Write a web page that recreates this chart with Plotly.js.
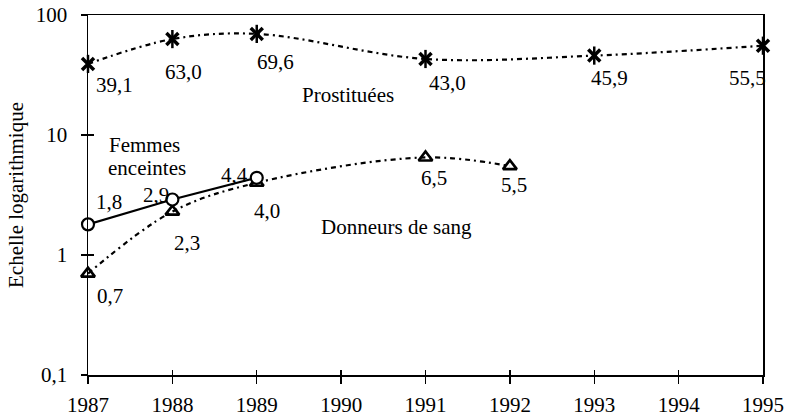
<!DOCTYPE html>
<html><head><meta charset="utf-8">
<script src="https://cdn.plot.ly/plotly-3.0.1.min.js"></script>
<style>html,body{margin:0;padding:0;background:#fff}#c{width:787px;height:419px}</style>
</head><body><div id="c"></div>
<script>
// Data
const prostYears = [1987, 1988, 1989, 1991, 1993, 1995];
const prostValues = [39.1, 63.0, 69.6, 43.0, 45.9, 55.5];
const femmesYears = [1987, 1988, 1989];
const femmesValues = [1.8, 2.9, 4.4];
const donneursYears = [1987, 1988, 1989, 1991, 1992];
const donneursValues = [0.7, 2.3, 4.0, 6.5, 5.5];
const xTicks = [1987, 1988, 1989, 1990, 1991, 1992, 1993, 1994, 1995];
const yTickVals = [0.1, 1, 10, 100];
const yTickText = ['0,1', '1', '10', '100'];

// label offsets (pixels) – styling only
const prostOff = [[26, -21], [11, -33], [19, -28], [22, -24], [15, -22], [-16, -32]];
const femmesOff = [[21, 22], [-16, 5], [-22, 3]];
const donneursOff = [[22, -22], [15, -31], [10, -28], [8, -21], [4, -19]];

const FONT = "'Liberation Serif', 'Times New Roman', Times, serif";
const FS = 21;
const fmt = v => v.toFixed(1).replace('.', ',');
const dashPat = '5px,4px,2px,4px';

const traces = [
  {x: prostYears, y: prostValues, type: 'scatter', mode: 'lines+markers', cliponaxis: false,
   line: {color: '#000', width: 2.2, dash: dashPat, shape: 'spline', smoothing: 1},
   marker: {symbol: 'x-thin-open', size: 12, color: '#000', line: {color: '#000', width: 3.5}}},
  {x: prostYears, y: prostValues, type: 'scatter', mode: 'markers', cliponaxis: false,
   marker: {symbol: 'line-ns-open', size: 13, color: '#000', line: {color: '#000', width: 2.5}}},
  {x: donneursYears, y: donneursValues, type: 'scatter', mode: 'lines+markers', cliponaxis: false,
   line: {color: '#000', width: 2.2, dash: dashPat, shape: 'spline', smoothing: 1},
   marker: {symbol: 'triangle-up-open', size: 12, color: '#000', line: {color: '#000', width: 2.6}}},
  {x: femmesYears, y: femmesValues, type: 'scatter', mode: 'lines+markers', cliponaxis: false,
   line: {color: '#000', width: 2.2},
   marker: {symbol: 'circle', size: 12, color: '#fff', line: {color: '#000', width: 2.2}}},
  {x: [1987], y: [1], xaxis: 'x2', yaxis: 'y2', type: 'scatter', mode: 'markers', marker: {opacity: 0}, hoverinfo: 'skip'}
];

const annotations = [];
function addLabels(xs, ys, offs) {
  xs.forEach((x, i) => annotations.push({
    x: x, y: Math.log10(ys[i]), xref: 'x', yref: 'y', text: fmt(ys[i]), showarrow: false,
    xshift: offs[i][0], yshift: offs[i][1], font: {family: FONT, size: FS, color: '#000'}
  }));
}
addLabels(prostYears, prostValues, prostOff);
addLabels(femmesYears, femmesValues, femmesOff);
addLabels(donneursYears, donneursValues, donneursOff);
const tf = {family: FONT, size: FS, color: '#000'};
annotations.push(
  {x: 1990.08, y: 1.333, xref: 'x', yref: 'y', text: 'Prostituées', showarrow: false, font: tf},
  {x: 1987, y: 0.917, xref: 'x', yref: 'y', text: 'Femmes', showarrow: false, xanchor: 'left', xshift: 19, font: tf},
  {x: 1987, y: 0.725, xref: 'x', yref: 'y', text: 'enceintes', showarrow: false, xanchor: 'left', xshift: 18, font: tf},
  {x: 1990.66, y: 0.233, xref: 'x', yref: 'y', text: 'Donneurs de sang', showarrow: false, font: tf}
);

const common = {showgrid: false, zeroline: false, tickcolor: '#000', tickwidth: 1.3};
const layout = {
  width: 787, height: 419,
  margin: {l: 88, r: 24, t: 15, b: 44},
  paper_bgcolor: '#fff', plot_bgcolor: '#fff',
  showlegend: false,
  font: {family: FONT, size: FS, color: '#000'},
  xaxis: Object.assign({range: [1987, 1995], tickvals: xTicks, ticks: 'outside', ticklen: 7,
          showline: true, linecolor: '#000', linewidth: 1.5, mirror: true,
          tickfont: {family: FONT, size: FS}, ticklabelstandoff: 3}, common),
  xaxis2: Object.assign({range: [1987, 1995], overlaying: 'x', side: 'bottom', tickvals: xTicks, ticks: 'inside', ticklen: 5,
           showticklabels: false, showline: false}, common),
  yaxis: Object.assign({type: 'log', range: [-1, 2], tickvals: yTickVals, ticktext: yTickText, ticks: 'outside', ticklen: 6,
          showline: true, linecolor: '#000', linewidth: 1.5, mirror: true,
          tickfont: {family: FONT, size: FS}, ticklabelstandoff: 9,
          title: {text: 'Echelle logarithmique', font: {family: FONT, size: FS}, standoff: 6}}, common),
  yaxis2: Object.assign({type: 'log', range: [-1, 2], overlaying: 'y', side: 'left', tickvals: yTickVals, ticks: 'inside', ticklen: 6,
           showticklabels: false, showline: false}, common),
  annotations: annotations
};

Plotly.newPlot('c', traces, layout, {displayModeBar: false, staticPlot: true});
</script></body></html>
